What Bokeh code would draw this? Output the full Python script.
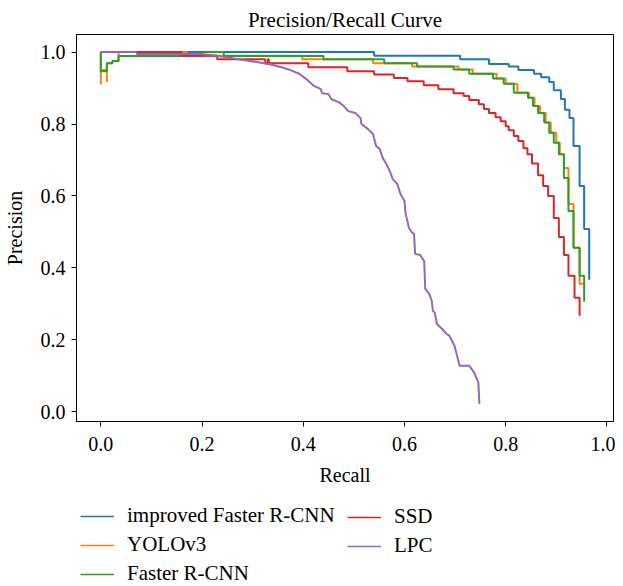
from bokeh.plotting import figure
from bokeh.layouts import column
from bokeh.models import Range1d, FixedTicker, PrintfTickFormatter, Legend, LegendItem
from bokeh.embed import file_html
from bokeh.resources import INLINE

# ---------------- data ----------------
title_text = "Precision/Recall Curve"
x_label = "Recall"
y_label = "Precision"
x_ticks = [0.0, 0.2, 0.4, 0.6, 0.8, 1.0]
y_ticks = [0.0, 0.2, 0.4, 0.6, 0.8, 1.0]

improved_recall = [0.0, 0.54, 0.71, 0.767, 0.806, 0.825, 0.856, 0.87, 0.886, 0.895,
                   0.909, 0.917, 0.926, 0.934, 0.946, 0.955, 0.965]
improved_precision = [1.0, 0.99, 0.98, 0.967, 0.96, 0.95, 0.94, 0.93, 0.917, 0.894,
                      0.87, 0.84, 0.817, 0.739, 0.628, 0.508, 0.367]

yolo_recall = [0.0, 0.0, 0.0, 0.012, 0.012, 0.012, 0.023, 0.035, 0.17, 0.398, 0.538,
               0.615, 0.707, 0.735, 0.782, 0.80, 0.823, 0.846, 0.857, 0.868, 0.879,
               0.889, 0.90, 0.907, 0.915, 0.924, 0.934, 0.946, 0.955]
yolo_precision = [1.0, 0.91, 0.95, 0.95, 0.917, 0.969, 0.975, 1.0, 0.99, 0.98, 0.969,
                  0.96, 0.952, 0.94, 0.927, 0.912, 0.887, 0.873, 0.85, 0.831, 0.804,
                  0.776, 0.748, 0.716, 0.678, 0.578, 0.456, 0.356, 0.356]

faster_recall = [0.0, 0.0, 0.012, 0.023, 0.035, 0.2, 0.243, 0.44, 0.56, 0.625, 0.697,
                 0.728, 0.775, 0.796, 0.816, 0.844, 0.854, 0.864, 0.876, 0.886, 0.895,
                 0.905, 0.915, 0.924, 0.934, 0.946, 0.955]
faster_precision = [1.0, 0.947, 0.969, 0.975, 0.989, 1.0, 0.989, 0.98, 0.969, 0.96, 0.952,
                    0.94, 0.927, 0.912, 0.887, 0.873, 0.85, 0.831, 0.804, 0.776, 0.748,
                    0.716, 0.65, 0.558, 0.456, 0.378, 0.306]

ssd_recall = [0.0, 0.16, 0.23, 0.325, 0.33, 0.332, 0.41, 0.487, 0.54, 0.579, 0.606,
              0.638, 0.667, 0.697, 0.717, 0.728, 0.747, 0.757, 0.767, 0.78, 0.79, 0.80,
              0.806, 0.816, 0.825, 0.835, 0.843, 0.852, 0.864, 0.874, 0.884, 0.895,
              0.905, 0.915, 0.924, 0.936, 0.946]
ssd_precision = [1.0, 0.99, 0.98, 0.969, 0.98, 0.969, 0.958, 0.947, 0.938, 0.928, 0.919,
                 0.908, 0.897, 0.886, 0.878, 0.867, 0.855, 0.842, 0.831, 0.819, 0.808,
                 0.794, 0.783, 0.767, 0.753, 0.733, 0.716, 0.69, 0.658, 0.628, 0.6,
                 0.539, 0.486, 0.436, 0.378, 0.317, 0.267]

lpc_recall = [0.0, 0.07, 0.072, 0.2, 0.233, 0.272, 0.311, 0.338, 0.357, 0.375, 0.392,
              0.406, 0.421, 0.435, 0.437, 0.45, 0.456, 0.47, 0.48, 0.489, 0.503, 0.513,
              0.515, 0.528, 0.538, 0.544, 0.551, 0.557, 0.563, 0.571, 0.577, 0.586,
              0.592, 0.6, 0.602, 0.609, 0.614, 0.619, 0.621, 0.631, 0.639, 0.641,
              0.649, 0.654, 0.656, 0.66, 0.664, 0.674, 0.683, 0.689, 0.699, 0.709,
              0.728, 0.738, 0.746, 0.748]
lpc_precision = [1.0, 1.0, 0.995, 0.995, 0.989, 0.98, 0.972, 0.965, 0.958, 0.95, 0.94,
                 0.925, 0.906, 0.897, 0.886, 0.883, 0.869, 0.861, 0.85, 0.836, 0.831,
                 0.817, 0.8, 0.786, 0.772, 0.739, 0.731, 0.706, 0.692, 0.669, 0.647,
                 0.633, 0.606, 0.586, 0.553, 0.511, 0.5, 0.494, 0.439, 0.436, 0.419,
                 0.342, 0.328, 0.308, 0.281, 0.275, 0.244, 0.231, 0.217, 0.211, 0.183,
                 0.128, 0.128, 0.108, 0.081, 0.022]

series_names = ["improved Faster R-CNN", "YOLOv3", "Faster R-CNN", "SSD", "LPC"]
series_x = [improved_recall, yolo_recall, faster_recall, ssd_recall, lpc_recall]
series_y = [improved_precision, yolo_precision, faster_precision, ssd_precision, lpc_precision]
colors = ["#1f77b4", "#ff7f0e", "#2ca02c", "#d62728", "#9467bd"]

FONT = "Liberation Serif"
W = 615

# ---------------- main plot ----------------
p = figure(width=W, height=498, output_backend="svg", toolbar_location=None,
           x_range=Range1d(-0.048, 1.013), y_range=Range1d(-0.027, 1.049),
           min_border_left=66, min_border_right=2, min_border_top=34,
           min_border_bottom=77, title=title_text)

p.title.align = "center"
p.title.text_font = FONT
p.title.text_font_size = "21px"
p.title.text_font_style = "normal"
p.title.text_color = "black"
p.title.standoff = 6
p.title.offset = 0

p.grid.visible = False
p.outline_line_color = "black"
p.outline_line_width = 1
p.background_fill_color = "white"
p.border_fill_color = "white"

for ax, ticks in ((p.xaxis, x_ticks), (p.yaxis, y_ticks)):
    ax.ticker = FixedTicker(ticks=ticks)
    ax.formatter = PrintfTickFormatter(format="%.1f")
    ax.major_tick_out = 5
    ax.major_tick_in = 0
    ax.minor_tick_out = 0
    ax.minor_tick_in = 0
    ax.axis_line_color = "black"
    ax.major_tick_line_color = "black"
    ax.major_label_text_font = FONT
    ax.major_label_text_font_size = "20px"
    ax.major_label_text_color = "black"
    ax.axis_label_text_font = FONT
    ax.axis_label_text_font_size = "20px"
    ax.axis_label_text_font_style = "normal"
    ax.axis_label_text_color = "black"

p.xaxis.axis_label = x_label
p.yaxis.axis_label = y_label
p.xaxis.major_label_standoff = 10
p.yaxis.major_label_standoff = 6
p.xaxis.axis_label_standoff = 10
p.yaxis.axis_label_standoff = 12

lw = 2
for i in range(4):
    p.step(series_x[i], series_y[i], mode="after", line_color=colors[i], line_width=lw)
p.line(series_x[4], series_y[4], line_color=colors[4], line_width=lw)

# ---------------- legend strip ----------------
LH = 88
q = figure(width=W, height=LH, output_backend="svg", toolbar_location=None,
           x_range=Range1d(0, 1), y_range=Range1d(0, 1),
           x_axis_location=None, y_axis_location=None,
           min_border_left=0, min_border_right=0, min_border_top=0, min_border_bottom=0)
q.grid.visible = False
q.outline_line_color = None
q.background_fill_color = "white"
q.border_fill_color = "white"

handles = []
for i in range(5):
    h = q.line(series_x[i], series_y[i], line_color=colors[i], line_width=1.5)
    h.visible = False
    handles.append(h)


def make_legend(items, loc):
    lg = Legend(items=items, location=loc, orientation="vertical")
    lg.border_line_color = None
    lg.background_fill_alpha = 0
    lg.inactive_fill_alpha = 0
    lg.padding = 0
    lg.margin = 0
    lg.spacing = 4
    lg.glyph_width = 34
    lg.glyph_height = 20
    lg.label_height = 20
    lg.label_standoff = 13
    lg.label_text_font = FONT
    lg.label_text_font_size = "21px"
    lg.label_text_color = "black"
    return lg


leg1 = make_legend([LegendItem(label=series_names[i], renderers=[handles[i]]) for i in range(3)],
                   (4, 0))
leg2 = make_legend([LegendItem(label=series_names[i], renderers=[handles[i]]) for i in range(3, 5)],
                   (271, 28))
q.add_layout(leg1, "center")
q.add_layout(leg2, "center")

layout = column(p, q, spacing=0)
open("out.html", "w").write(file_html(layout, INLINE))
